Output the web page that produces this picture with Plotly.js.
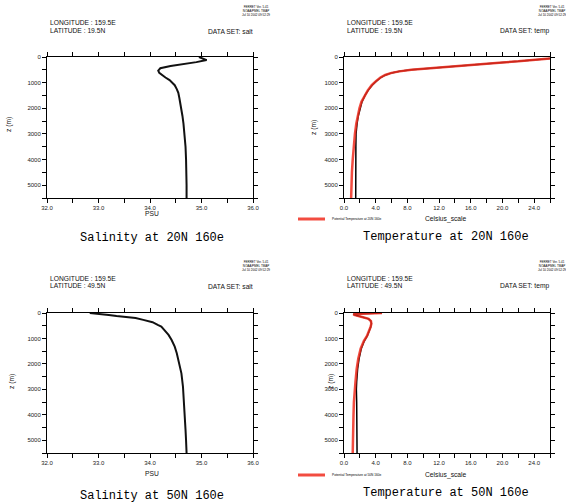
<!DOCTYPE html>
<html><head><meta charset="utf-8">
<script src="https://cdn.plot.ly/plotly-3.0.1.min.js"></script>
<style>html,body{margin:0;padding:0;background:#fff}#plot{width:566px;height:504px}</style>
</head><body><div id="plot"></div>
<script>
// Salinity at 20N 160e
const salt20Depth = [0, 60, 120, 200, 280, 350, 440, 530, 620, 700, 800, 900, 1000, 1100, 1250, 1400, 1600, 1800, 2000, 2300, 2600, 3000, 3500, 4000, 4500, 5000, 5500];
const salt20Psu   = [34.95, 35.05, 35.10, 34.90, 34.60, 34.40, 34.20, 34.16, 34.18, 34.23, 34.30, 34.38, 34.44, 34.48, 34.52, 34.55, 34.57, 34.59, 34.61, 34.63, 34.65, 34.67, 34.69, 34.70, 34.71, 34.71, 34.71];
// Temperature at 20N 160e
const temp20Depth  = [0, 30, 60, 120, 170, 210, 260, 300, 350, 400, 450, 500, 560, 620, 700, 800, 950, 1100, 1300, 1500, 1750, 2000, 2300, 2600, 3000, 3500, 4000, 4500, 5000, 5500];
const temp20Pot    = [28.0, 27.0, 26.0, 24.0, 22.0, 20.0, 18.0, 16.0, 14.0, 12.0, 10.0, 8.5, 7.0, 6.0, 5.2, 4.6, 4.0, 3.5, 3.0, 2.6, 2.2, 1.95, 1.72, 1.55, 1.38, 1.22, 1.10, 1.00, 0.95, 0.90];
const temp20Insitu = [28.0, 27.0, 26.0, 24.0, 22.0, 20.0, 18.0, 16.0, 14.0, 12.0, 10.0, 8.5, 7.0, 6.0, 5.25, 4.65, 4.05, 3.55, 3.05, 2.65, 2.27, 2.02, 1.80, 1.65, 1.52, 1.50, 1.49, 1.48, 1.48, 1.48];
// Salinity at 50N 160e
const salt50Depth = [0, 20, 40, 80, 120, 160, 200, 270, 360, 470, 530, 670, 860, 1060, 1320, 1580, 1980, 2370, 2890, 3420, 4070, 4590, 5000, 5500];
const salt50Psu   = [32.83, 32.95, 33.06, 33.20, 33.35, 33.55, 33.72, 33.87, 34.05, 34.15, 34.22, 34.28, 34.36, 34.42, 34.48, 34.52, 34.57, 34.61, 34.64, 34.66, 34.68, 34.69, 34.70, 34.71];
// Temperature at 50N 160e
const temp50Depth  = [0, 10, 20, 40, 70, 110, 160, 230, 320, 420, 550, 700, 900, 1100, 1400, 1800, 2200, 2700, 3000, 3500, 4000, 5000, 5500];
const temp50Pot    = [4.8, 4.0, 2.5, 1.2, 1.3, 1.8, 2.5, 3.1, 3.4, 3.45, 3.35, 3.15, 2.9, 2.5, 2.1, 1.8, 1.6, 1.45, 1.35, 1.25, 1.2, 1.15, 1.1];
const temp50Insitu = [4.8, 4.0, 2.5, 1.2, 1.3, 1.8, 2.5, 3.1, 3.4, 3.46, 3.37, 3.18, 2.94, 2.56, 2.18, 1.9, 1.72, 1.6, 1.56, 1.6, 1.62, 1.65, 1.65];

const saltTickVals = [32, 33, 34, 35, 36];
const saltTickText = ["32.0", "33.0", "34.0", "35.0", "36.0"];
const tempTickVals = [0, 4, 8, 12, 16, 20, 24];
const tempTickText = ["0.0", "4.0", "8.0", "12.0", "16.0", "20.0", "24.0"];
const depthTickVals = [0, 1000, 2000, 3000, 4000, 5000];
const depthTickText = ["0", "1000", "2000", "3000", "4000", "5000"];

const W = 566, H = 504;
const px = v => v / W, py = v => 1 - v / H;

const RED = 'rgba(240,45,30,0.85)';
const traces = [
  {x: salt20Psu, y: salt20Depth, xaxis: 'x', yaxis: 'y', mode: 'lines', line: {color: '#111', width: 2}},
  {x: temp20Insitu, y: temp20Depth, xaxis: 'x2', yaxis: 'y2', mode: 'lines', line: {color: '#000', width: 1.5}},
  {x: temp20Pot, y: temp20Depth, xaxis: 'x2', yaxis: 'y2', mode: 'lines', line: {color: RED, width: 2.5}},
  {x: salt50Psu, y: salt50Depth, xaxis: 'x3', yaxis: 'y3', mode: 'lines', line: {color: '#111', width: 2}},
  {x: temp50Insitu, y: temp50Depth, xaxis: 'x4', yaxis: 'y4', mode: 'lines', line: {color: '#000', width: 1.5}},
  {x: temp50Pot, y: temp50Depth, xaxis: 'x4', yaxis: 'y4', mode: 'lines', line: {color: RED, width: 2.5}}
];

const tickFont = {family: 'Liberation Sans, Arial, sans-serif', size: 6, color: '#222'};
function xax(domain, anchor, tv, tt, range, minorDt) {
  return {domain: domain, anchor: anchor, range: range, tickvals: tv, ticktext: tt,
    ticks: 'outside', ticklen: 4, tickwidth: 1, tickcolor: '#000',
    minor: {dtick: minorDt, tick0: 0, ticks: 'outside', ticklen: 4, tickwidth: 1, tickcolor: '#000', showgrid: false},
    showline: true, linecolor: '#000', linewidth: 1, mirror: 'ticks', showgrid: false, zeroline: false,
    tickfont: tickFont, ticklabelstandoff: 0, fixedrange: true};
}
function yax(domain, anchor) {
  return {domain: domain, anchor: anchor, range: [5500, 0], tickvals: depthTickVals, ticktext: depthTickText,
    ticks: 'outside', ticklen: 4, tickwidth: 1, tickcolor: '#000',
    minor: {dtick: 500, tick0: 0, ticks: 'outside', ticklen: 4, tickwidth: 1, tickcolor: '#000', showgrid: false},
    showline: true, linecolor: '#000', linewidth: 1, mirror: 'ticks', showgrid: false, zeroline: false,
    tickfont: tickFont, fixedrange: true};
}

const dxL = [px(47), px(253)], dxR = [px(344), px(550)];
const dyT = [py(198), py(57)], dyB = [py(453), py(313)];

const infoFont = {family: 'Liberation Sans, Arial, sans-serif', size: 6.7, color: '#111'};
const titleFont = {family: 'Liberation Mono, Courier New, monospace', size: 12, color: '#000'};
const tinyFont = {family: 'Liberation Sans, Arial, sans-serif', size: 3, color: '#000'};

function ann(x, y, text, font, xanchor, textangle) {
  return {xref: 'paper', yref: 'paper', x: px(x), y: py(y), text: text, showarrow: false,
    font: font, xanchor: xanchor || 'center', yanchor: 'middle', textangle: textangle || 0};
}

const panels = [
  {lx: 48, rx: 255, top: 0, lon: 'LONGITUDE : 159.5E', lat: 'LATITUDE : 19.5N', ds: 'DATA SET: salt', title: 'Salinity at 20N 160e', xt: 'PSU', xty: 213, zx: 9, zy: 125, ty: 238, tx: 152},
  {lx: 345, rx: 551, top: 0, lon: 'LONGITUDE : 159.5E', lat: 'LATITUDE : 19.5N', ds: 'DATA SET: temp', title: 'Temperature at 20N 160e', xt: 'Celsius_scale', xty: 219, zx: 314, zy: 127, ty: 237, tx: 446, leg: 219},
  {lx: 48, rx: 255, top: 255, lon: 'LONGITUDE : 159.5E', lat: 'LATITUDE : 49.5N', ds: 'DATA SET: salt', title: 'Salinity at 50N 160e', xt: 'PSU', xty: 473, zx: 12, zy: 382, ty: 496, tx: 152},
  {lx: 345, rx: 551, top: 255, lon: 'LONGITUDE : 159.5E', lat: 'LATITUDE : 49.5N', ds: 'DATA SET: temp', title: 'Temperature at 50N 160e', xt: 'Celsius_scale', xty: 475, zx: 331, zy: 382, ty: 493, tx: 446, leg: 475}
];

const annotations = [];
const shapes = [];
panels.forEach(p => {
  annotations.push(ann(p.lx, p.top + 23, p.lon, infoFont, 'left'));
  annotations.push(ann(p.lx, p.top + 30, p.lat, infoFont, 'left'));
  annotations.push(ann(p.rx, p.top + 31, p.ds, infoFont, 'right'));
  annotations.push(ann(p.rx + 17, p.top + 11, 'FERRET Ver. 5.41<br>NOAA/PMEL TMAP<br>Jul 10 2002 09:52:29', tinyFont, 'right'));
  annotations.push(ann(p.tx, p.ty, p.title, titleFont, 'center'));
  annotations.push(ann(p.tx, p.xty, p.xt, infoFont, 'center'));
  annotations.push(ann(p.zx, p.zy, 'z (m)', infoFont, 'center', -90));
  if (p.leg) {
    shapes.push({type: 'line', xref: 'paper', yref: 'paper', x0: px(298), x1: px(325), y0: py(p.leg), y1: py(p.leg), line: {color: RED, width: 3}});
    annotations.push(ann(330, p.leg, p.title.replace('Temperature', 'Potential Temperature'), {family: 'Liberation Sans, Arial, sans-serif', size: 3.2, color: '#000'}, 'left'));
  }
});

const layout = {
  width: W, height: H, margin: {l: 0, r: 0, t: 0, b: 0}, showlegend: false,
  paper_bgcolor: '#fff', plot_bgcolor: '#fff',
  xaxis: xax(dxL, 'y', saltTickVals, saltTickText, [32, 36], 0.5),
  yaxis: yax(dyT, 'x'),
  xaxis2: xax(dxR, 'y2', tempTickVals, tempTickText, [0, 26], 2),
  yaxis2: yax(dyT, 'x2'),
  xaxis3: xax(dxL, 'y3', saltTickVals, saltTickText, [32, 36], 0.5),
  yaxis3: yax(dyB, 'x3'),
  xaxis4: xax(dxR, 'y4', tempTickVals, tempTickText, [0, 26], 2),
  yaxis4: yax(dyB, 'x4'),
  annotations: annotations, shapes: shapes
};
Plotly.newPlot('plot', traces, layout, {staticPlot: true, displayModeBar: false});
</script></body></html>
